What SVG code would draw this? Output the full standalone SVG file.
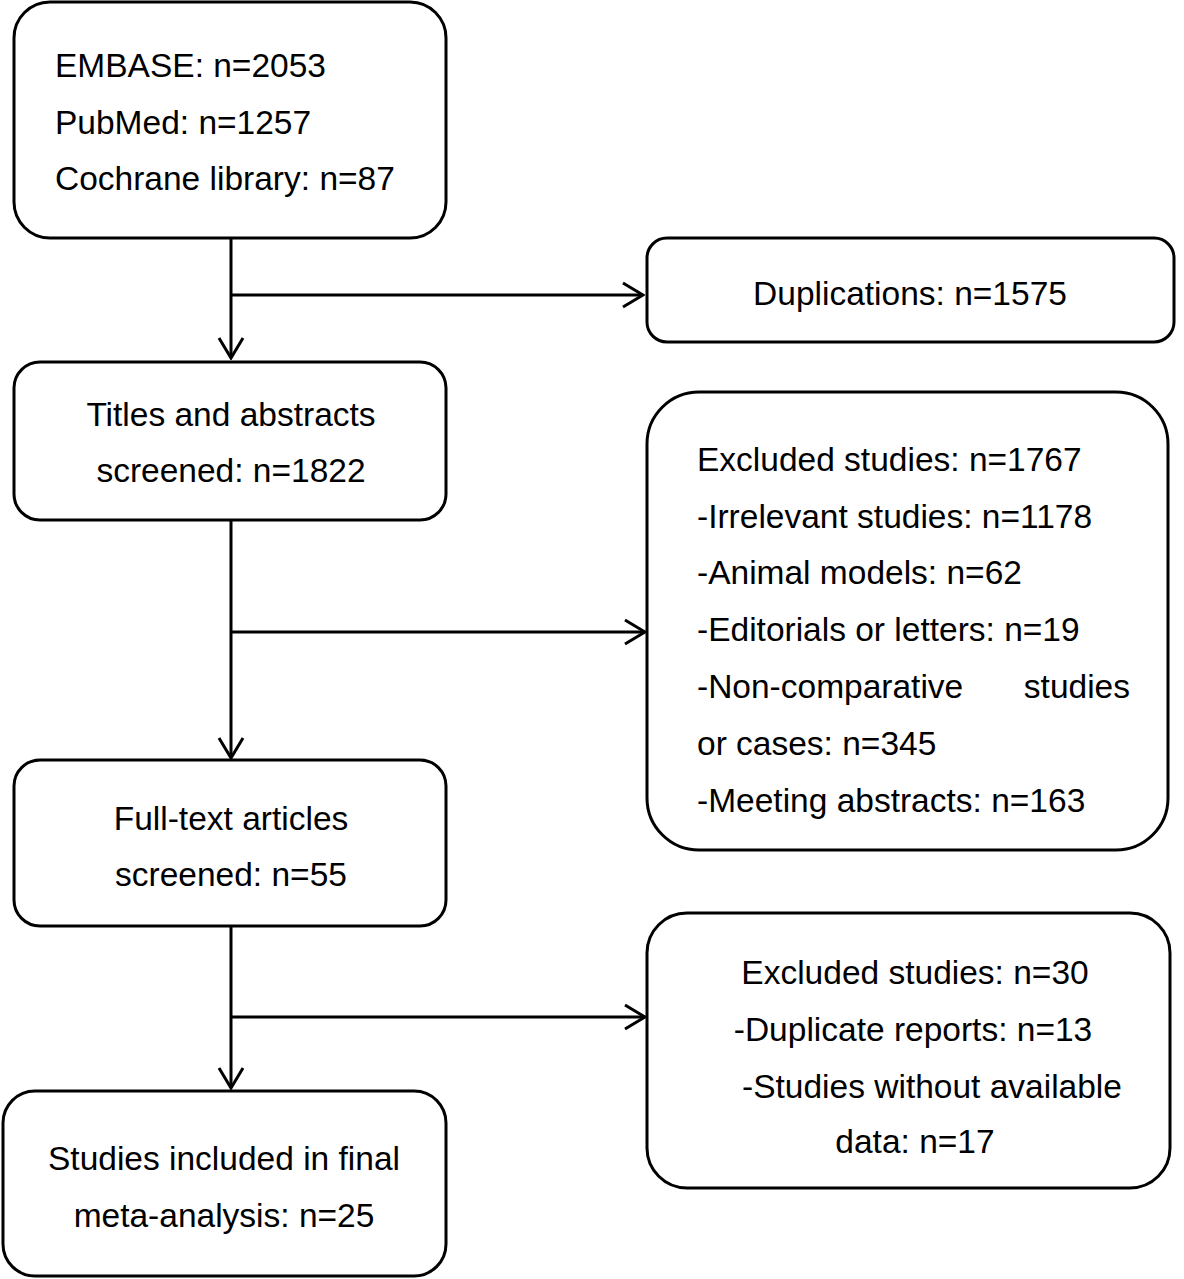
<svg xmlns="http://www.w3.org/2000/svg" width="1184" height="1279" viewBox="0 0 1184 1279">
<style>
.box{fill:#fff;stroke:#000;stroke-width:3}
.t{font-family:"Liberation Sans",Arial,sans-serif;font-size:33.5px;fill:#000}
.m{text-anchor:middle}
.c{fill:none;stroke:#000;stroke-width:3}
</style>
<defs>
<marker id="ah" viewBox="0 0 24 28" refX="22" refY="14" markerWidth="24" markerHeight="28" markerUnits="userSpaceOnUse" orient="auto">
<path d="M2,2 L22,14 L2,26" fill="none" stroke="#000" stroke-width="3"/>
</marker>
</defs>
<g id="connectors">
<path class="c" d="M231,238 V358" marker-end="url(#ah)"/>
<path class="c" d="M231,295 H643" marker-end="url(#ah)"/>
<path class="c" d="M231,520 V758" marker-end="url(#ah)"/>
<path class="c" d="M231,632 H645" marker-end="url(#ah)"/>
<path class="c" d="M231,926 V1088" marker-end="url(#ah)"/>
<path class="c" d="M231,1017 H645" marker-end="url(#ah)"/>
</g>
<g id="sources">
<rect class="box" x="14" y="2" width="432" height="236" rx="36"/>
<text class="t" x="55" y="77">EMBASE: n=2053</text>
<text class="t" x="55" y="134">PubMed: n=1257</text>
<text class="t" x="55" y="190">Cochrane library: n=87</text>
</g>
<g id="duplications">
<rect class="box" x="647" y="238" width="527" height="104" rx="20"/>
<text class="t m" x="910" y="305">Duplications: n=1575</text>
</g>
<g id="titles">
<rect class="box" x="14" y="362" width="432" height="158" rx="26"/>
<text class="t m" x="231" y="426">Titles and abstracts</text>
<text class="t m" x="231" y="482">screened: n=1822</text>
</g>
<g id="excluded1">
<rect class="box" x="647" y="392" width="521" height="458" rx="52"/>
<text class="t" x="697" y="471">Excluded studies: n=1767</text>
<text class="t" x="697" y="528">-Irrelevant studies: n=1178</text>
<text class="t" x="697" y="584">-Animal models: n=62</text>
<text class="t" x="697" y="641">-Editorials or letters: n=19</text>
<text class="t" x="697" y="698">-Non-comparative</text>
<text class="t" x="1130" y="698" text-anchor="end">studies</text>
<text class="t" x="697" y="755">or cases: n=345</text>
<text class="t" x="697" y="812">-Meeting abstracts: n=163</text>
</g>
<g id="fulltext">
<rect class="box" x="14" y="760" width="432" height="166" rx="26"/>
<text class="t m" x="231" y="830">Full-text articles</text>
<text class="t m" x="231" y="886">screened: n=55</text>
</g>
<g id="excluded2">
<rect class="box" x="647" y="913" width="523" height="275" rx="40"/>
<text class="t m" x="915" y="984">Excluded studies: n=30</text>
<text class="t m" x="913" y="1041">-Duplicate reports: n=13</text>
<text class="t m" x="932" y="1098">-Studies without available</text>
<text class="t m" x="915" y="1153">data: n=17</text>
</g>
<g id="final">
<rect class="box" x="3" y="1091" width="443" height="185" rx="32"/>
<text class="t m" x="224" y="1170">Studies included in final</text>
<text class="t m" x="224" y="1227">meta-analysis: n=25</text>
</g>
</svg>
